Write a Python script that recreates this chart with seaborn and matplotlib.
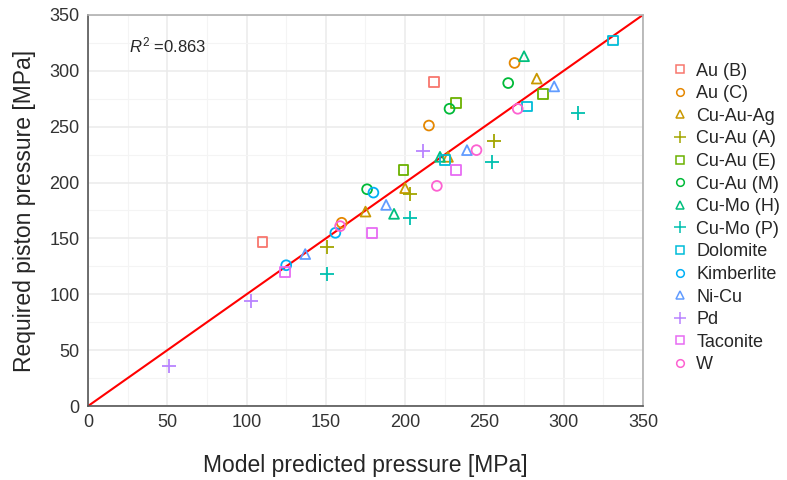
import matplotlib
matplotlib.use("Agg")
import matplotlib.pyplot as plt
from matplotlib.lines import Line2D
from matplotlib.ticker import MultipleLocator
import seaborn as sns
import pandas as pd
import numpy as np

# ---- data ----
categories = ["Au (B)", "Au (C)", "Cu-Au-Ag", "Cu-Au (A)", "Cu-Au (E)", "Cu-Au (M)",
              "Cu-Mo (H)", "Cu-Mo (P)", "Dolomite", "Kimberlite", "Ni-Cu", "Pd",
              "Taconite", "W"]
colors = ["#F8766D", "#E58700", "#C99800", "#A3A500", "#6BB100", "#00BA38", "#00BF7D",
          "#00C0AF", "#00BCD8", "#00B0F6", "#619CFF", "#B983FF", "#E76BF3", "#FD61D1"]
marker_cycle = ["s", "o", "^", "+"]

au_b_x = [110, 218];              au_b_y = [147, 290]
au_c_x = [160, 215, 269];         au_c_y = [164, 251, 307]
cuauag_x = [175, 200, 227, 283];  cuauag_y = [174, 195, 223, 293]
cuau_a_x = [151, 203, 256];       cuau_a_y = [142, 190, 237]
cuau_e_x = [199, 232, 287];       cuau_e_y = [211, 271, 279]
cuau_m_x = [176, 228, 265];       cuau_m_y = [194, 266, 289]
cumo_h_x = [193, 222, 275];       cumo_h_y = [172, 223, 313]
cumo_p_x = [151, 203, 255, 309];  cumo_p_y = [118, 168, 218, 262]
dolomite_x = [225, 277, 331];     dolomite_y = [220, 268, 327]
kimber_x = [125, 156, 180];       kimber_y = [126, 155, 191]
nicu_x = [137, 188, 239, 294];    nicu_y = [136, 180, 229, 286]
pd_x = [51, 103, 211];            pd_y = [36, 94, 228]
taconite_x = [124, 179, 232];     taconite_y = [120, 155, 211]
w_x = [159, 220, 245, 271];       w_y = [161, 197, 229, 266]

xs = [au_b_x, au_c_x, cuauag_x, cuau_a_x, cuau_e_x, cuau_m_x, cumo_h_x, cumo_p_x,
      dolomite_x, kimber_x, nicu_x, pd_x, taconite_x, w_x]
ys = [au_b_y, au_c_y, cuauag_y, cuau_a_y, cuau_e_y, cuau_m_y, cumo_h_y, cumo_p_y,
      dolomite_y, kimber_y, nicu_y, pd_y, taconite_y, w_y]

r2_text = "0.863"
tick_values = [0, 50, 100, 150, 200, 250, 300, 350]

markers = {c: marker_cycle[i % 4] for i, c in enumerate(categories)}
palette = dict(zip(categories, colors))

rows = []
for cat, gx, gy in zip(categories, xs, ys):
    for a, b in zip(gx, gy):
        rows.append({"pred": a, "req": b, "rock": cat})
df = pd.DataFrame(rows)
df["is_plus"] = df["rock"].map(lambda c: markers[c] == "+")
filled_cats = [c for c in categories if markers[c] != "+"]
plus_cats = [c for c in categories if markers[c] == "+"]

# ---- figure ----
sns.set_style("white")
plt.rcParams["font.family"] = ["Liberation Sans", "DejaVu Sans"]
plt.rcParams["mathtext.fontset"] = "custom"
plt.rcParams["mathtext.rm"] = "Liberation Sans"
plt.rcParams["mathtext.it"] = "Liberation Sans:italic"

fig = plt.figure(figsize=(7.87, 4.80), dpi=100)
ax = fig.add_axes([0.1118, 0.154, 0.7052, 0.815])

# grid
ax.xaxis.set_major_locator(MultipleLocator(50))
ax.yaxis.set_major_locator(MultipleLocator(50))
ax.xaxis.set_minor_locator(MultipleLocator(25))
ax.yaxis.set_minor_locator(MultipleLocator(25))
ax.grid(which="major", color="#ebebeb", linewidth=1.1, zorder=0)
ax.grid(which="minor", color="#f4f4f4", linewidth=0.8, zorder=0)
ax.set_axisbelow(True)

sns.lineplot(x=[0, 350], y=[0, 350], color="#FF0000", linewidth=1.5, ax=ax, zorder=2)

# open (hollow) markers: square, circle, triangle
sns.scatterplot(data=df[~df["is_plus"]], x="pred", y="req", hue="rock", style="rock",
                palette={c: palette[c] for c in filled_cats},
                markers={c: markers[c] for c in filled_cats},
                hue_order=filled_cats, style_order=filled_cats,
                s=50, linewidth=1.3, legend=False, ax=ax, zorder=3)
coll = ax.collections[-1]
fc = coll.get_facecolors()
coll.set_edgecolors(fc)
coll.set_facecolors("none")
coll.set_linewidths(1.3)

# plus markers
sns.scatterplot(data=df[df["is_plus"]], x="pred", y="req", hue="rock",
                palette={c: palette[c] for c in plus_cats}, hue_order=plus_cats,
                marker="+", s=100, linewidth=1.3, legend=False, ax=ax, zorder=3)

ax.set_xlim(0, 350)
ax.set_ylim(0, 350)
ax.set_xticks(tick_values)
ax.set_yticks(tick_values)
ax.tick_params(axis="both", which="major", direction="out", length=4, width=1,
               color="#333333", labelsize=13, labelcolor="#333333", pad=2)
ax.tick_params(axis="both", which="minor", length=0)

for side in ["top", "right"]:
    ax.spines[side].set_color("#b0b0b0")
    ax.spines[side].set_linewidth(1.2)
for side in ["left", "bottom"]:
    ax.spines[side].set_color("#555555")
    ax.spines[side].set_linewidth(1.2)

ax.set_xlabel("Model predicted pressure [MPa]", fontsize=16.5, labelpad=16)
ax.set_ylabel("Required piston pressure [MPa]", fontsize=16.5, labelpad=10)

ax.text(26, 323, r"$R^2$ =" + r2_text, fontsize=12, va="center", ha="left")

handles = [Line2D([], [], marker=markers[c], color=palette[c], markerfacecolor="none",
                  linestyle="", markersize=5.5 if markers[c] != "+" else 8,
                  markeredgewidth=1.1) for c in categories]
fig.legend(handles=handles, labels=categories, loc="center left",
           bbox_to_anchor=(0.841, 0.546), frameon=False, fontsize=13,
           handletextpad=0.4, handlelength=1.0, labelspacing=0.31, borderpad=0)

fig.savefig("out.png", dpi=100)
